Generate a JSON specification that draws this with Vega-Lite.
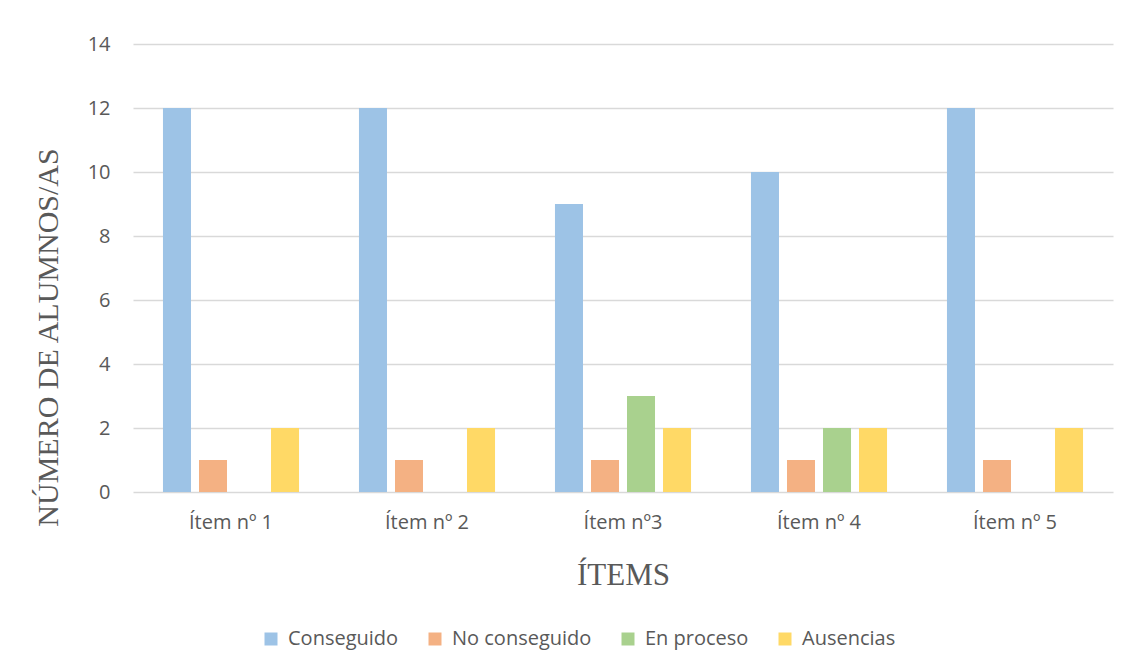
{
  "$schema": "https://vega.github.io/schema/vega-lite/v6.json",
  "width": 980,
  "height": 448,
  "autosize": {"type": "none"},
  "padding": {"left": 133, "top": 44, "right": 18, "bottom": 177},
  "background": "white",
  "config": {
    "view": {"stroke": null},
    "font": "Open Sans"
  },
  "data": {
    "values": [
      {"item": "Ítem nº 1", "estado": "Conseguido", "valor": 12},
      {"item": "Ítem nº 1", "estado": "No conseguido", "valor": 1},
      {"item": "Ítem nº 1", "estado": "Ausencias", "valor": 2},
      {"item": "Ítem nº 2", "estado": "Conseguido", "valor": 12},
      {"item": "Ítem nº 2", "estado": "No conseguido", "valor": 1},
      {"item": "Ítem nº 2", "estado": "Ausencias", "valor": 2},
      {"item": "Ítem nº3", "estado": "Conseguido", "valor": 9},
      {"item": "Ítem nº3", "estado": "No conseguido", "valor": 1},
      {"item": "Ítem nº3", "estado": "En proceso", "valor": 3},
      {"item": "Ítem nº3", "estado": "Ausencias", "valor": 2},
      {"item": "Ítem nº 4", "estado": "Conseguido", "valor": 10},
      {"item": "Ítem nº 4", "estado": "No conseguido", "valor": 1},
      {"item": "Ítem nº 4", "estado": "En proceso", "valor": 2},
      {"item": "Ítem nº 4", "estado": "Ausencias", "valor": 2},
      {"item": "Ítem nº 5", "estado": "Conseguido", "valor": 12},
      {"item": "Ítem nº 5", "estado": "No conseguido", "valor": 1},
      {"item": "Ítem nº 5", "estado": "Ausencias", "valor": 2}
    ]
  },
  "mark": {"type": "bar"},
  "encoding": {
    "x": {
      "field": "item",
      "type": "nominal",
      "sort": ["Ítem nº 1", "Ítem nº 2", "Ítem nº3", "Ítem nº 4", "Ítem nº 5"],
      "scale": {"paddingInner": 0.265, "paddingOuter": 0.1325},
      "axis": {
        "title": "ÍTEMS",
        "titleFont": "Liberation Serif",
        "titleFontSize": 31,
        "titleFontWeight": "normal",
        "titleColor": "#595959",
        "titlePadding": 28,
        "labelAngle": 0,
        "labelFontSize": 20,
        "labelColor": "#595959",
        "labelPadding": 20,
        "ticks": false,
        "domain": false
      }
    },
    "xOffset": {
      "field": "estado",
      "type": "nominal",
      "scale": {
        "domain": ["Conseguido", "No conseguido", "En proceso", "Ausencias"],
        "paddingInner": 0.222,
        "paddingOuter": 0.111
      }
    },
    "y": {
      "field": "valor",
      "type": "quantitative",
      "scale": {"domain": [0, 14]},
      "axis": {
        "title": "NÚMERO DE ALUMNOS/AS",
        "titleFont": "Liberation Serif",
        "titleFontSize": 30,
        "titleFontWeight": "normal",
        "titleColor": "#595959",
        "titleX": -85,
        "titleY": 293,
        "titleAngle": -90,
        "titleAlign": "center",
        "titleBaseline": "middle",
        "values": [0, 2, 4, 6, 8, 10, 12, 14],
        "labelFontSize": 20,
        "labelColor": "#595959",
        "labelPadding": 23,
        "ticks": false,
        "domain": false,
        "grid": true,
        "gridColor": "#d9d9d9",
        "gridWidth": 1.5
      }
    },
    "color": {
      "field": "estado",
      "type": "nominal",
      "scale": {
        "domain": ["Conseguido", "No conseguido", "En proceso", "Ausencias"],
        "range": ["#9dc3e6", "#f4b183", "#a9d18e", "#ffd966"]
      },
      "legend": {
        "title": null,
        "orient": "none",
        "direction": "horizontal",
        "legendX": 128,
        "legendY": 585,
        "symbolType": "square",
        "symbolSize": 169,
        "symbolStrokeWidth": 0,
        "labelFontSize": 20,
        "labelColor": "#595959",
        "labelOffset": 7,
        "columnPadding": 26
      }
    }
  }
}
